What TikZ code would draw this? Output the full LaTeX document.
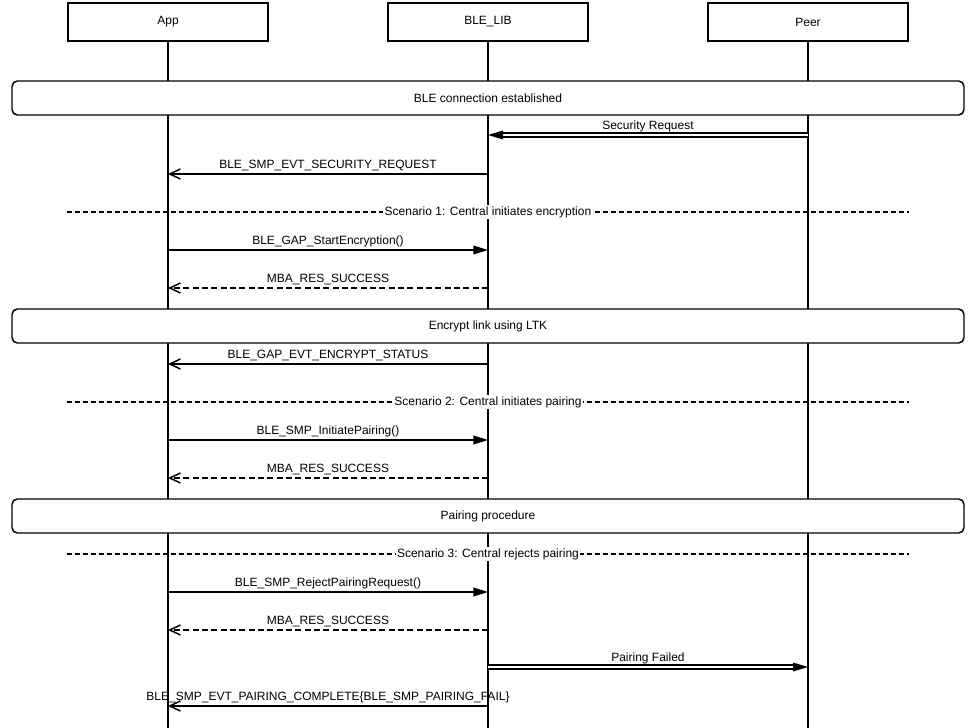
\documentclass[tikz,border=0pt]{standalone}
\usepackage{fontspec}
\setmainfont{Liberation Sans}
\usetikzlibrary{arrows.meta,positioning,calc}

\tikzset{
	part/.style={draw,line width=1.1pt,minimum width=150pt,minimum height=28.5pt,inner sep=0pt},
	life/.style={line width=1.1pt},
	frame/.style={draw,fill=white,rounded corners=4pt,line width=1.1pt,minimum width=714pt,minimum height=25.5pt},
	call/.style={line width=1.1pt,-{Triangle[length=11pt,width=6.5pt]}},
	evt/.style={line width=1.1pt,-{Straight Barb[length=8pt,width=7.5pt,line width=1.1pt]}},
	reply/.style={evt,dash pattern=on 4.5pt off 2.5pt},
	dbl/.style={double,double distance=2pt,line width=1pt,shorten >=7pt},
	sep/.style={line width=0.9pt,dash pattern=on 3.75pt off 2.25pt},
	lbl/.style={above,inner sep=1.5pt},
	sepl/.style={fill=white,inner sep=1pt}
}

\begin{document}
\begin{tikzpicture}[x=0.75pt,y=-0.75pt,font=\fontsize{9}{11}\selectfont]
				\useasboundingbox[fill=white] (0,0) rectangle (976,728);
				\node[part] (app) at (168,22) {App};
				\node[part] (lib) at (488,22) {BLE\_LIB};
				\node[part] (peer) at (808,22) {Peer};
				\coordinate (bot) at (0,728);
				\foreach \p in {app,lib,peer}
				\draw[life] (\p.south) -- (\p.south |- bot);
				\foreach \n/\y in {f1/98,f2/326,f3/516,m1/135,m2/174,s1/212,m3/250,m4/288,m5/364,s2/402,m6/440,m7/478,s3/554,m8/592,m9/630,m10/667,m11/706}
				\coordinate (\n) at (0,\y);
				\node[frame] (est) at (lib |- f1) {BLE connection established};
				\node[frame] (enc) at (lib |- f2) {Encrypt link using LTK};
				\node[frame] (pair) at (lib |- f3) {Pairing procedure};
				\draw[dbl] (peer |- m1) -- node[lbl]{Security Request} (lib |- m1);
				\fill (lib |- m1) -- ++(15,-4.5) -- ++(0,9) -- cycle;
				\draw[evt] (lib |- m2) -- node[lbl]{BLE\_SMP\_EVT\_SECURITY\_REQUEST} (app |- m2);
				\draw[sep] (app.west |- s1) -- node[sepl]{Scenario 1: Central initiates encryption} (peer.east |- s1);
				\draw[call] (app |- m3) -- node[lbl]{BLE\_GAP\_StartEncryption()} (lib |- m3);
				\draw[reply] (lib |- m4) -- node[lbl]{MBA\_RES\_SUCCESS} (app |- m4);
				\draw[evt] (lib |- m5) -- node[lbl]{BLE\_GAP\_EVT\_ENCRYPT\_STATUS} (app |- m5);
				\draw[sep] (app.west |- s2) -- node[sepl]{Scenario 2: Central initiates pairing} (peer.east |- s2);
				\draw[call] (app |- m6) -- node[lbl]{BLE\_SMP\_InitiatePairing()} (lib |- m6);
				\draw[reply] (lib |- m7) -- node[lbl]{MBA\_RES\_SUCCESS} (app |- m7);
				\draw[sep] (app.west |- s3) -- node[sepl]{Scenario 3: Central rejects pairing} (peer.east |- s3);
				\draw[call] (app |- m8) -- node[lbl]{BLE\_SMP\_RejectPairingRequest()} (lib |- m8);
				\draw[reply] (lib |- m9) -- node[lbl]{MBA\_RES\_SUCCESS} (app |- m9);
				\draw[dbl] (lib |- m10) -- node[lbl]{Pairing Failed} (peer |- m10);
				\fill (peer |- m10) -- ++(-15,-4.5) -- ++(0,9) -- cycle;
				\draw[evt] (lib |- m11) -- node[lbl]{BLE\_SMP\_EVT\_PAIRING\_COMPLETE\{BLE\_SMP\_PAIRING\_FAIL\}} (app |- m11);
\end{tikzpicture}
\end{document}
